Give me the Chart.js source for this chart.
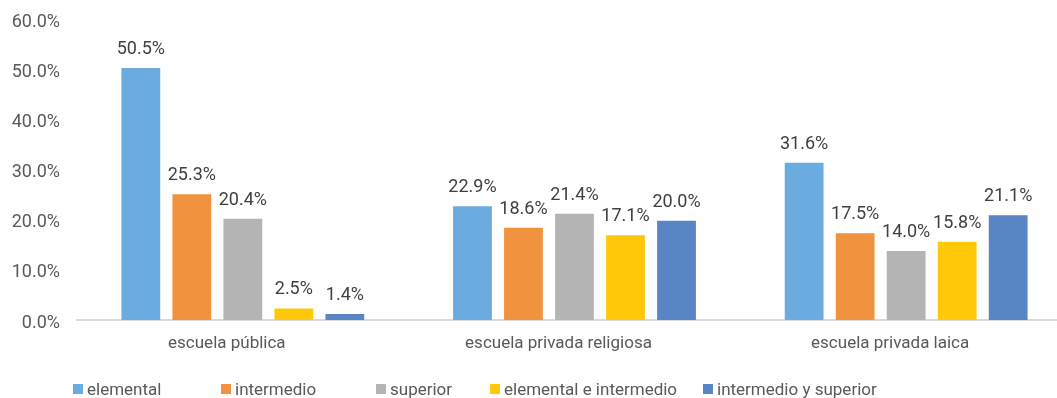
<!DOCTYPE html>
<html>
<head>
<meta charset="utf-8">
<script src="https://cdn.jsdelivr.net/npm/chart.js@4"></script>
<style>
    html, body { margin: 0; padding: 0; background: #ffffff; overflow: hidden; }
    .wrap { position: relative; width: 1075px; height: 398px; }
    .legend { position: absolute; left: 0; top: 0; width: 1057px; height: 398px; pointer-events: none; }
    .legend-item { position: absolute; top: 379px; display: flex; align-items: center; font-family: Roboto, sans-serif; font-size: 17px; color: #595959; white-space: nowrap; }
    .legend-item span.box { width: 10px; height: 10px; margin-right: 4px; display: inline-block; }
</style>
</head>
<body>
<div class="wrap">
    <canvas id="schoolChart" width="1075" height="398"></canvas>
    <div class="legend" id="legend"></div>
</div>
<script>
const categories = ['escuela pública', 'escuela privada religiosa', 'escuela privada laica'];
const seriesNames = ['elemental', 'intermedio', 'superior', 'elemental e intermedio', 'intermedio y superior'];
const elemental = [50.5, 22.9, 31.6];
const intermedio = [25.3, 18.6, 17.5];
const superior = [20.4, 21.4, 14.0];
const elementalIntermedio = [2.5, 17.1, 15.8];
const intermedioSuperior = [1.4, 20.0, 21.1];
const yTicks = [0, 10, 20, 30, 40, 50, 60];

const seriesValues = [elemental, intermedio, superior, elementalIntermedio, intermedioSuperior];
const seriesColors = ['#6aacdf', '#f1923f', '#b4b4b4', '#ffc90a', '#5886c5'];
const legendLeft = [73, 221, 376, 490, 703];

// value labels above every bar
const barValueLabels = {
    id: 'barValueLabels',
    afterDatasetsDraw(chart) {
        const ctx = chart.ctx;
        ctx.save();
        ctx.font = '18px Roboto, sans-serif';
        ctx.fillStyle = '#404040';
        ctx.textAlign = 'center';
        ctx.textBaseline = 'alphabetic';
        chart.data.datasets.forEach((ds, i) => {
            chart.getDatasetMeta(i).data.forEach((bar, j) => {
                ctx.fillText(ds.data[j].toFixed(1) + '%', bar.x, bar.y - 13);
            });
        });
        ctx.restore();
    }
};

const ctx = document.getElementById('schoolChart').getContext('2d');
new Chart(ctx, {
    type: 'bar',
    data: {
        labels: categories,
        datasets: seriesNames.map((name, i) => ({
            label: name,
            data: seriesValues[i],
            backgroundColor: seriesColors[i],
            borderColor: 'rgba(255,255,255,0.35)',
            borderWidth: 1,
            categoryPercentage: 0.769,
            barPercentage: 0.8
        }))
    },
    options: {
        responsive: false,
        animation: false,
        layout: { padding: { top: 19.5, right: 3, bottom: 46, left: 0 } },
        plugins: {
            legend: { display: false },
            tooltip: { enabled: false }
        },
        scales: {
            x: {
                grid: { display: false, drawTicks: false },
                border: { display: true, color: '#d9d9d9', width: 2 },
                ticks: {
                    color: '#595959',
                    font: { family: 'Roboto, sans-serif', size: 17 },
                    padding: 14,
                    labelOffset: -16,
                    maxRotation: 0
                },
                afterFit(scale) { scale.height = 32; }
            },
            y: {
                min: 0,
                max: 60,
                grid: { display: false, drawTicks: false },
                border: { display: false },
                afterBuildTicks(scale) {
                    scale.ticks = yTicks.map(v => ({ value: v }));
                },
                ticks: {
                    color: '#595959',
                    font: { family: 'Roboto, sans-serif', size: 18 },
                    padding: 17,
                    labelOffset: 3,
                    callback: v => v.toFixed(1) + '%'
                },
                afterFit(scale) {
                    scale.width = 77;
                    scale.paddingTop = 0;
                    scale.paddingBottom = 0;
                }
            }
        }
    },
    plugins: [barValueLabels]
});

// legend below the plot
const legend = document.getElementById('legend');
seriesNames.forEach((name, i) => {
    const item = document.createElement('div');
    item.className = 'legend-item';
    item.style.left = legendLeft[i] + 'px';
    item.innerHTML = `<span class="box" style="background:${seriesColors[i]}"></span>${name}`;
    legend.appendChild(item);
});
</script>
</body>
</html>
